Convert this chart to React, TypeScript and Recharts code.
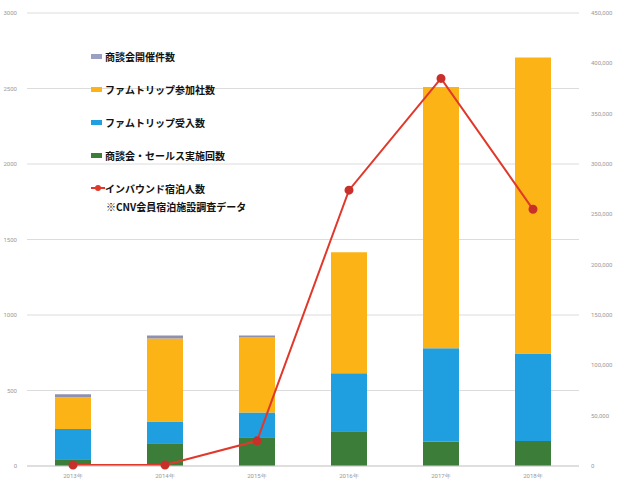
import React from 'react';
import {
  ComposedChart,
  Bar,
  Line,
  XAxis,
  YAxis,
  CartesianGrid
} from 'recharts';

const years = ['2013年', '2014年', '2015年', '2016年', '2017年', '2018年'];
const salesCount = [45, 150, 190, 230, 160, 165];
const famtripAccepted = [200, 145, 165, 385, 620, 580];
const famtripCompanies = [210, 550, 500, 800, 1730, 1960];
const meetingsHeld = [20, 20, 10, 0, 0, 0];
const inboundGuests = [1000, 1000, 25000, 274000, 385000, 255000];

const leftTicks = [0, 500, 1000, 1500, 2000, 2500, 3000];
const rightTicks = [0, 50000, 100000, 150000, 200000, 250000, 300000, 350000, 400000, 450000];

const data = years.map((year, i) => ({
  year,
  sales: salesCount[i],
  accepted: famtripAccepted[i],
  companies: famtripCompanies[i],
  meetings: meetingsHeld[i],
  guests: inboundGuests[i]
}));

const legendItems = [
  { name: '商談会開催件数', color: '#9aa0c4', type: 'rect' },
  { name: 'ファムトリップ参加社数', color: '#fbb316', type: 'rect' },
  { name: 'ファムトリップ受入数', color: '#1f9fe0', type: 'rect' },
  { name: '商談会・セールス実施回数', color: '#3c7d3a', type: 'rect' },
  { name: 'インバウンド宿泊人数', color: '#e0392b', type: 'line' }
];

// legend drawn as an overlay so it doesn't eat into the plot area
const ChartLegend = () => (
  <div
    style={{
      position: 'absolute',
      left: 91,
      top: 49,
      fontFamily: '"Noto Sans CJK JP", sans-serif',
      fontSize: 10,
      fontWeight: 700,
      color: '#111'
    }}
  >
    {legendItems.map((item, i) => (
      <div key={item.name} style={{ display: 'flex', alignItems: 'center', height: 14, marginBottom: i === 4 ? 4 : 19 }}>
        {item.type === 'rect' ? (
          <span style={{ display: 'inline-block', width: 11, height: 5, background: item.color, marginRight: 3 }} />
        ) : (
          <svg width={14} height={8}>
            <line x1={0} y1={4} x2={14} y2={4} stroke={item.color} strokeWidth={2} />
            <circle cx={7} cy={4} r={3} fill={item.color} />
          </svg>
        )}
        <span>{item.name}</span>
      </div>
    ))}
    <div style={{ paddingLeft: 15 }}>※CNV会員宿泊施設調査データ</div>
  </div>
);

const tickStyle = { fill: '#999', fontSize: 6, fontFamily: 'Roboto, sans-serif' };

export default function App() {
  return (
    <div style={{ position: 'absolute', left: 0, top: 0, width: 640, height: 479, background: '#fff' }}>
      <ComposedChart
        width={640}
        height={479}
        data={data}
        margin={{ top: 13, right: 0, bottom: 0, left: 0 }}
        barCategoryGap={56}
      >
        <CartesianGrid yAxisId="left" vertical={false} stroke="#dcdcdc" />
        <XAxis dataKey="year" tick={tickStyle} tickLine={false} axisLine={{ stroke: '#d0d0d0' }} height={13} tickMargin={2} />
        <YAxis
          yAxisId="left"
          domain={[0, 3000]}
          ticks={leftTicks}
          width={27}
          tick={tickStyle}
          tickLine={false}
          axisLine={false}
          tickMargin={4}
        />
        <YAxis
          yAxisId="right"
          orientation="right"
          domain={[0, 450000]}
          ticks={rightTicks}
          width={61}
          tick={tickStyle}
          tickLine={false}
          axisLine={false}
          tickMargin={6}
          tickFormatter={(v: number) => v.toLocaleString('en-US')}
        />
        <Bar yAxisId="left" dataKey="sales" stackId="a" fill="#3c7d3a" barSize={36} isAnimationActive={false} />
        <Bar yAxisId="left" dataKey="accepted" stackId="a" fill="#1f9fe0" barSize={36} isAnimationActive={false} />
        <Bar yAxisId="left" dataKey="companies" stackId="a" fill="#fbb316" barSize={36} isAnimationActive={false} />
        <Bar yAxisId="left" dataKey="meetings" stackId="a" fill="#8f90b0" barSize={36} isAnimationActive={false} />
        <Line
          yAxisId="right"
          dataKey="guests"
          stroke="#e0392b"
          strokeWidth={2}
          dot={{ r: 3.5, fill: '#c8302a', stroke: '#c8302a' }}
          isAnimationActive={false}
        />
      </ComposedChart>
      <ChartLegend />
    </div>
  );
}
